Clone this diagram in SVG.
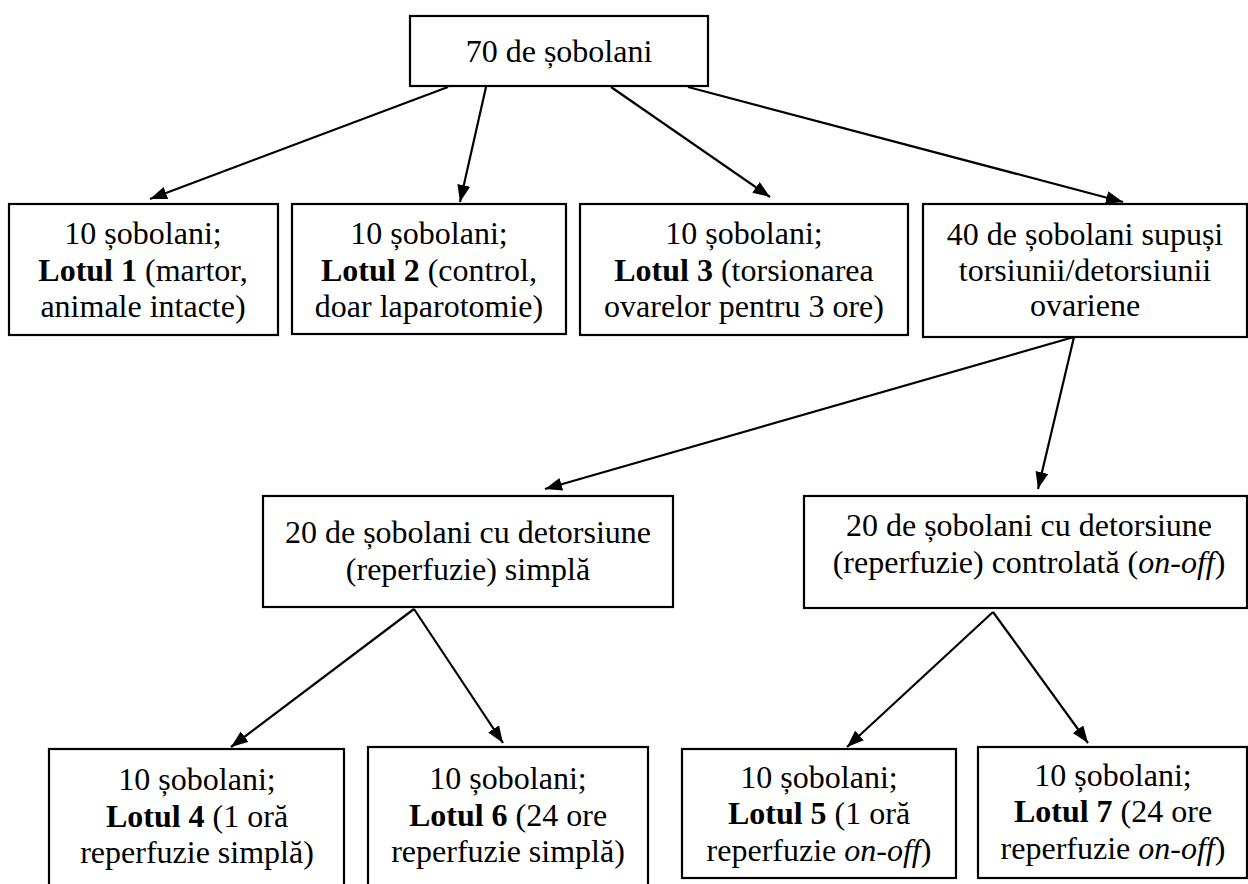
<svg xmlns="http://www.w3.org/2000/svg" width="1248" height="884" viewBox="0 0 1248 884">
<style>
.box{fill:#fff;stroke:#000;stroke-width:2.2}
.t{font-family:'Liberation Serif','Tinos','Times New Roman','DejaVu Serif',serif;font-size:32px;fill:#000;text-anchor:middle}
.b{font-weight:bold}
.i{font-style:italic}
.c{stroke:#000;stroke-width:2.2;fill:none;marker-end:url(#ah)}
</style>
<defs>
<marker id="ah" markerUnits="userSpaceOnUse" markerWidth="18" markerHeight="14" refX="17" refY="6.5" orient="auto">
<path d="M0,0 L17,6.5 L0,13 z" fill="#000"/>
</marker>
</defs>
<rect width="1248" height="884" fill="#fff"/>
<g id="connectors">
<line class="c" x1="448" y1="87" x2="150" y2="199"/>
<line class="c" x1="486" y1="87" x2="460" y2="202"/>
<line class="c" x1="611" y1="87" x2="770" y2="197"/>
<line class="c" x1="688" y1="87" x2="1123" y2="202"/>
<line class="c" x1="1074" y1="337" x2="545" y2="489"/>
<line class="c" x1="1074" y1="337" x2="1038" y2="489"/>
<line class="c" x1="414" y1="609" x2="231" y2="747"/>
<line class="c" x1="414" y1="609" x2="503" y2="743"/>
<line class="c" x1="993" y1="612" x2="847" y2="747"/>
<line class="c" x1="993" y1="612" x2="1088" y2="743"/>
</g>
<g id="n0">
<rect class="box" x="410" y="16" width="298" height="70"/>
<text class="t" x="559" y="62">70 de șobolani</text>
</g>
<g id="n1">
<rect class="box" x="9" y="204" width="269" height="131"/>
<text class="t" x="143" y="244">10 șobolani;</text>
<text class="t" x="143" y="281"><tspan class="b">Lotul 1</tspan> (martor,</text>
<text class="t" x="143" y="317">animale intacte)</text>
</g>
<g id="n2">
<rect class="box" x="292" y="204" width="274" height="130"/>
<text class="t" x="429" y="244">10 șobolani;</text>
<text class="t" x="429" y="281"><tspan class="b">Lotul 2</tspan> (control,</text>
<text class="t" x="429" y="317">doar laparotomie)</text>
</g>
<g id="n3">
<rect class="box" x="580" y="204" width="328" height="131"/>
<text class="t" x="744" y="244">10 șobolani;</text>
<text class="t" x="744" y="281"><tspan class="b">Lotul 3</tspan> (torsionarea</text>
<text class="t" x="744" y="317">ovarelor pentru 3 ore)</text>
</g>
<g id="n4">
<rect class="box" x="923" y="204" width="324" height="133"/>
<text class="t" x="1085" y="245">40 de șobolani supuși</text>
<text class="t" x="1085" y="281">torsiunii/detorsiunii</text>
<text class="t" x="1085" y="316">ovariene</text>
</g>
<g id="n5">
<rect class="box" x="263" y="496" width="410" height="111"/>
<text class="t" x="468" y="543">20 de șobolani cu detorsiune</text>
<text class="t" x="468" y="580">(reperfuzie) simplă</text>
</g>
<g id="n6">
<rect class="box" x="804" y="496" width="443" height="112"/>
<text class="t" x="1029" y="536">20 de șobolani cu detorsiune</text>
<text class="t" x="1029" y="573">(reperfuzie) controlată (<tspan class="i">on-off</tspan>)</text>
</g>
<g id="n7">
<rect class="box" x="49" y="749" width="295" height="140"/>
<text class="t" x="197" y="790">10 șobolani;</text>
<text class="t" x="197" y="827"><tspan class="b">Lotul 4</tspan> (1 oră</text>
<text class="t" x="197" y="863">reperfuzie simplă)</text>
</g>
<g id="n8">
<rect class="box" x="368" y="747" width="280" height="142"/>
<text class="t" x="508" y="789">10 șobolani;</text>
<text class="t" x="508" y="826"><tspan class="b">Lotul 6</tspan> (24 ore</text>
<text class="t" x="508" y="862">reperfuzie simplă)</text>
</g>
<g id="n9">
<rect class="box" x="682" y="749" width="274" height="129"/>
<text class="t" x="819" y="788">10 șobolani;</text>
<text class="t" x="819" y="824"><tspan class="b">Lotul 5</tspan> (1 oră</text>
<text class="t" x="819" y="861">reperfuzie <tspan class="i">on-off</tspan>)</text>
</g>
<g id="n10">
<rect class="box" x="978" y="747" width="269" height="131"/>
<text class="t" x="1113" y="786">10 șobolani;</text>
<text class="t" x="1113" y="822"><tspan class="b">Lotul 7</tspan> (24 ore</text>
<text class="t" x="1113" y="859">reperfuzie <tspan class="i">on-off</tspan>)</text>
</g>
</svg>
